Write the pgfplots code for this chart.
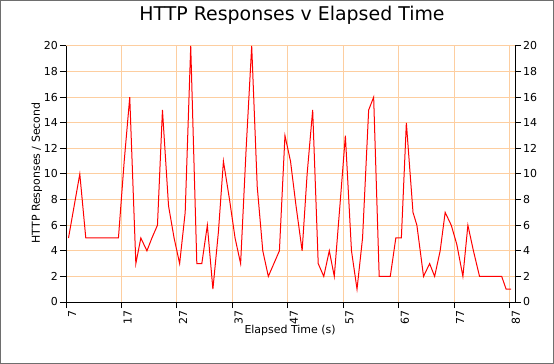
\documentclass[border=0pt]{standalone}
\usepackage{fontspec}
\setmainfont{DejaVu Sans}
\usepackage{pgfplots}
\pgfplotsset{compat=1.18}
\definecolor{gridc}{RGB}{253,206,160}
\definecolor{framec}{RGB}{110,110,110}
\begin{document}
\begin{tikzpicture}
\useasboundingbox (0,0) rectangle (554bp,364bp);
\draw[framec, line width=1bp] (0.5bp,0.5bp) rectangle (553.5bp,363.5bp);
\node[font=\fontsize{19}{22}\selectfont] at (292bp,349bp) {HTTP Responses v Elapsed Time};
\begin{axis}[
  at={(66bp,62bp)}, anchor=south west,
  scale only axis, width=449bp, height=256bp,
  xmin=7, xmax=88, ymin=0, ymax=20,
  axis x line*=bottom, axis y line*=left,
  axis line style={black, line width=1bp},
  xtick={7,17,...,87}, ytick={0,2,...,20},
  grid=major, major grid style={gridc, line width=1bp},
  tick align=outside, major tick length=6bp,
  tick style={black, line width=1bp},
  /pgf/number format/assume math mode=true,
  ticklabel style={font=\fontsize{11}{13}\selectfont},
  xticklabel style={rotate=90, anchor=north east, inner sep=2bp},
  yticklabel style={inner sep=2bp},
  xlabel={Elapsed Time (s)},
  ylabel={HTTP Responses / Second},
  label style={font=\fontsize{11}{13}\selectfont},
  xlabel style={at={(axis description cs:0.499,-0.113)}, anchor=center},
  ylabel style={at={(axis description cs:-0.065,0.504)}, anchor=center, rotate=0},
]
\addplot[red, line width=1bp] coordinates {
(7.45,5) (9.49,10) (10.57,5) (16.46,5) (17.5,11) (18.5,16) (19.6,3) (20.5,5)
(21.6,4) (22.5,5) (23.5,6) (24.4,15) (25.5,7.5) (26.5,5) (27.5,3) (28.5,7)
(29.5,20) (30.6,3) (31.5,3) (32.5,6) (33.5,1) (34.5,5.5) (35.4,11) (36.5,8)
(37.5,5) (38.5,3) (39.5,12) (40.5,20) (41.5,9) (42.5,4) (43.5,2) (44.5,3)
(45.5,4) (46.5,13) (47.5,11) (48.5,7.5) (49.6,4) (50.5,10) (51.5,15) (52.5,3)
(53.5,2) (54.5,4) (55.4,2) (56.5,8) (57.4,13) (58.5,4) (59.5,1) (60.5,5)
(61.6,15) (62.5,16) (63.5,2) (65.5,2) (66.5,5) (67.5,5) (68.4,14) (69.6,7)
(70.3,6) (71.5,2) (72.6,3) (73.5,2) (74.5,4) (75.4,7) (76.5,6) (77.5,4.5)
(78.6,2) (79.5,6) (80.5,4) (81.6,2) (85.6,2) (86.4,1) (87.3,1)
};
\end{axis}
\begin{axis}[
  at={(66bp,62bp)}, anchor=south west,
  scale only axis, width=449bp, height=256bp,
  xmin=7, xmax=88, ymin=0, ymax=20,
  axis x line=none, axis y line*=right,
  axis line style={black, line width=1bp},
  ytick={0,2,...,20},
  tick align=outside, major tick length=6bp,
  tick style={black, line width=1bp},
  /pgf/number format/assume math mode=true,
  ticklabel style={font=\fontsize{11}{13}\selectfont},
  yticklabel style={inner sep=2bp},
]
\end{axis}
\end{tikzpicture}
\end{document}
